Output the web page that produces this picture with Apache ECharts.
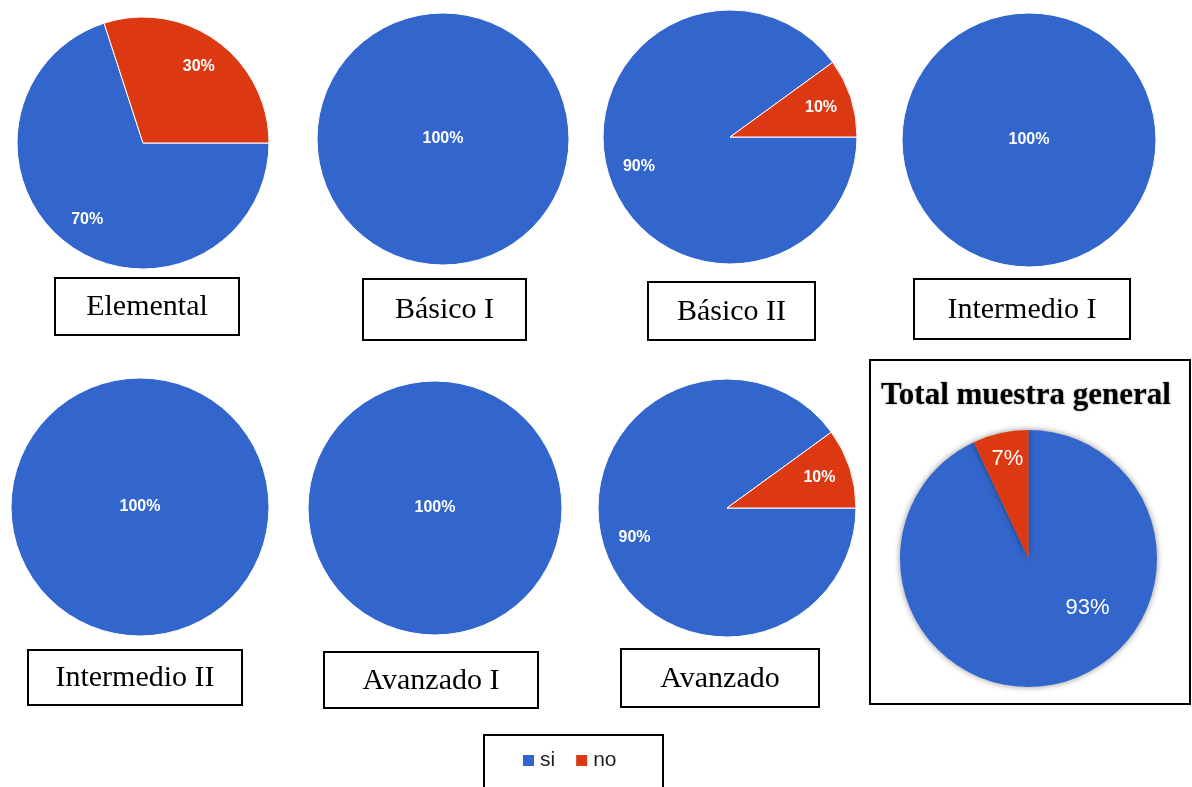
<!DOCTYPE html>
<html>
<head>
<meta charset="utf-8">
<script src="https://cdn.jsdelivr.net/npm/echarts@6/dist/echarts.min.js"></script>
<style>
  html, body { margin: 0; padding: 0; background: #ffffff; }
  #chart { width: 1192px; height: 787px; }
</style>
</head>
<body>
<div id="chart"></div>
<script>
// ---- data ----
const answers = ['si', 'no'];
const levels = ['Elemental', 'Básico I', 'Básico II', 'Intermedio I',
                'Intermedio II', 'Avanzado I', 'Avanzado'];
const siShare = [70, 100, 90, 100, 100, 100, 90];
const noShare = [30, 0, 10, 0, 0, 0, 10];
const totalTitle = 'Total muestra general';
const totalSi = 93;
const totalNo = 7;

// ---- look & placement ----
const COLORS = { si: '#3366cc', no: '#dc3912' };
const SANS = '"Liberation Sans", Arial, sans-serif';
const SERIF = '"Liberation Serif", "Times New Roman", serif';

// pie placement per level: [cx, cy, radius]
const pieSpots = [
  [143, 143, 126], [443, 139, 126], [730, 137, 127], [1029, 140, 127],
  [140, 507, 129], [435, 508, 127], [727, 508, 129]
];
// caption boxes per level: [x, y, width, height]
const captionBoxes = [
  [55, 278, 184, 57], [363, 279, 163, 61], [648, 282, 167, 58], [914, 279, 216, 60],
  [28, 650, 214, 55], [324, 652, 214, 56], [621, 649, 198, 58]
];
const totalSpot = [1028.5, 558.5, 128.5];
const totalBox = [870, 360, 320, 344];
const legendBox = [484, 735, 179, 70];

function slices(values, withLabels, labelTweaks) {
  const sum = values.reduce((a, b) => a + b, 0);
  return answers.map((name, i) => {
    const v = values[i];
    const item = { name: name, value: v, itemStyle: { color: COLORS[name] } };
    if (v === 0) item.itemStyle.borderWidth = 0;
    if (withLabels) {
      item.itemStyle = { color: 'transparent', borderWidth: 0 };
      item.label = { show: v > 0 };
      if (v === sum) item.label.position = 'center';
      if (labelTweaks && labelTweaks[name]) Object.assign(item.label, labelTweaks[name]);
    }
    return item;
  });
}

function pieSeries(spot, values, opts) {
  const [cx, cy, r] = spot;
  const o = opts || {};
  const base = {
    type: 'pie',
    center: [cx, cy],
    startAngle: o.startAngle != null ? o.startAngle : 0,
    clockwise: true,
    animation: false,
    labelLine: { show: false },
    emphasis: { disabled: true }
  };
  const fill = Object.assign({}, base, {
    radius: r,
    label: { show: false },
    itemStyle: Object.assign({ borderColor: '#ffffff', borderWidth: 1 }, o.itemStyle || {}),
    data: slices(values, false)
  });
  // transparent ring that carries the percentage labels further out from the centre
  const labels = Object.assign({}, base, {
    radius: [r * (o.inner != null ? o.inner : 0.46), r],
    silent: true,
    z: 3,
    label: Object.assign({
      show: true,
      position: 'inside',
      formatter: '{d}%',
      color: '#ffffff',
      fontFamily: SANS,
      fontWeight: 'bold',
      fontSize: 16
    }, o.label || {}),
    data: slices(values, true, o.labelTweaks)
  });
  return [fill, labels];
}

const series = [];
levels.forEach((lv, i) => {
  series.push(...pieSeries(pieSpots[i], [siShare[i], noShare[i]]));
});
series.push(...pieSeries(totalSpot, [totalSi, totalNo], {
  startAngle: 90,
  inner: 0.6,
  itemStyle: { borderWidth: 0, shadowBlur: 6, shadowColor: 'rgba(0,0,0,0.45)' },
  label: { fontWeight: 'normal', fontSize: 22 },
  labelTweaks: { si: { offset: [36, -54] }, no: { offset: [2, 4] } }
}));

const graphics = [];
levels.forEach((lv, i) => {
  const [x, y, w, h] = captionBoxes[i];
  graphics.push({
    type: 'group',
    children: [
      { type: 'rect', shape: { x: x, y: y, width: w, height: h },
        style: { fill: '#ffffff', stroke: '#000000', lineWidth: 2 } },
      { type: 'text', x: x + w / 2, y: y + h / 2 + 1,
        style: { text: lv, font: '30px ' + SERIF, fill: '#000000',
                 align: 'center', verticalAlign: 'middle' } }
    ]
  });
});
graphics.push({
  type: 'rect',
  shape: { x: totalBox[0], y: totalBox[1], width: totalBox[2], height: totalBox[3] },
  style: { fill: 'none', stroke: '#000000', lineWidth: 2 }
});
graphics.push({
  type: 'text', x: 881, y: 396,
  style: { text: totalTitle, font: 'bold 31px ' + SERIF, fill: '#000000',
           align: 'left', verticalAlign: 'middle',
           textShadowBlur: 2, textShadowColor: 'rgba(0,0,0,0.45)' }
});
graphics.push({
  type: 'rect',
  shape: { x: legendBox[0], y: legendBox[1], width: legendBox[2], height: legendBox[3] },
  style: { fill: '#ffffff', stroke: '#000000', lineWidth: 2 }
});

const chart = echarts.init(document.getElementById('chart'), null, { renderer: 'canvas' });
chart.setOption({
  backgroundColor: '#ffffff',
  animation: false,
  legend: {
    left: 521,
    top: 750,
    padding: 0,
    orient: 'horizontal',
    icon: 'rect',
    itemWidth: 13,
    itemHeight: 13,
    itemGap: 19,
    selectedMode: false,
    textStyle: { fontFamily: SANS, fontSize: 21, color: '#222222' },
    data: answers.map(a => ({ name: a, itemStyle: { color: COLORS[a] } }))
  },
  graphic: graphics,
  series: series
});
</script>
</body>
</html>
